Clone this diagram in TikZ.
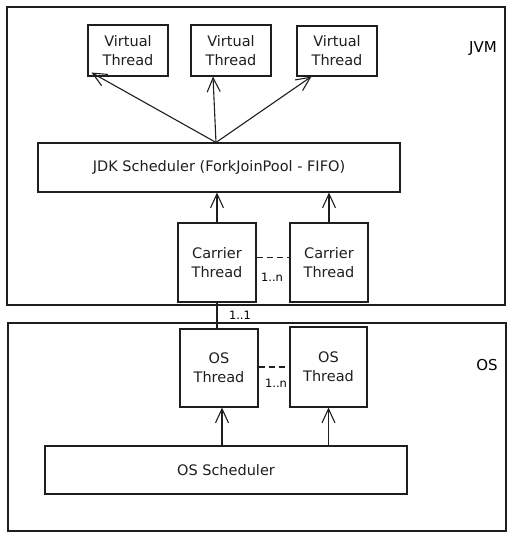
\documentclass[tikz,border=0pt]{standalone}
\usepackage{fontspec}
\setmainfont{DejaVu Sans}
\usetikzlibrary{arrows.meta,calc}
\begin{document}
\begin{tikzpicture}[x=1pt,y=-1pt,
  line width=1.1pt, draw={rgb,255:red,30;green,30;blue,30},
  box/.style={draw, rectangle, inner sep=0pt, align=center,
    font=\fontsize{14.5}{19}\selectfont, text={rgb,255:red,30;green,30;blue,30}},
  arr/.style={-{Straight Barb[length=14pt,width=13pt,line width=1.1pt]}},
  lbl/.style={font=\fontsize{11.5}{13}\selectfont, inner sep=1pt},
  zone/.style={font=\fontsize{15}{17}\selectfont, inner sep=1pt}]
\useasboundingbox (0,0) rectangle (512,539);
% zones
\node[box, minimum width=498pt, minimum height=298pt] (jvm) at (256,156) {};
\node[box, minimum width=498pt, minimum height=208pt] (os) at (257,427) {};
\node[zone] (jvmlbl) at (483,49) {JVM};
\node[zone] (oslbl) at (487,365) {OS};
% virtual threads
\node[box, minimum width=80pt, minimum height=51pt] (vt1) at (128,50.5) {Virtual\\Thread};
\node[box, minimum width=80pt, minimum height=51pt] (vt2) at (231,50.5) {Virtual\\Thread};
\node[box, minimum width=80pt, minimum height=50pt] (vt3) at (337,51) {Virtual\\Thread};
% JDK scheduler
\node[box, minimum width=362pt, minimum height=49pt] (jdk) at (219,167.5) {JDK Scheduler (ForkJoinPool - FIFO)};
% carrier threads
\node[box, minimum width=78pt, minimum height=79pt] (ct1) at (217,262.5) {Carrier\\Thread};
\node[box, minimum width=78pt, minimum height=79pt] (ct2) at (329,262.5) {Carrier\\Thread};
% OS threads
\node[box, minimum width=78pt, minimum height=78pt] (ot1) at (219,368) {OS\\Thread};
\node[box, minimum width=77pt, minimum height=80pt] (ot2) at (328.5,367) {OS\\Thread};
% OS scheduler
\node[box, minimum width=362pt, minimum height=48pt] (osch) at (226,470) {OS Scheduler};
% arrows JDK -> virtual threads
\draw[arr] ($(jdk.north)+(-3,0)$) -- ($(vt1.south west)+(4,-4)$);
\draw[arr] ($(jdk.north)+(-3,0)$) -- ($(vt2.south)+(-18,0)$);
\draw[arr] ($(jdk.north)+(-3,0)$) -- ($(vt3.south west)+(15,0)$);
% carriers -> JDK
\draw[arr] (ct1.north) -- (ct1.north |- jdk.south);
\draw[arr] (ct2.north) -- (ct2.north |- jdk.south);
\draw[dashed, dash pattern=on 6pt off 4pt] ($(ct1.east)+(0,-5)$) -- ($(ct2.west)+(0,-5)$);
\node[lbl] (n1) at (272,277) {1..n};
% carrier -> OS thread
\draw (ct1.south) -- (ct1.south |- ot1.north);
\node[lbl] (n11) at (240,315) {1..1};
% OS threads
\draw[dashed, dash pattern=on 6pt off 4pt] ($(ot1.east)+(0,-1)$) -- ($(ot2.west)+(0,0)$);
\node[lbl] (n2) at (276,383) {1..n};
\draw[arr] ($(ot1.south |- osch.north)+(3,0)$) -- ($(ot1.south)+(3,0)$);
\draw[arr] (ot2.south |- osch.north) -- (ot2.south);
\end{tikzpicture}
\end{document}
